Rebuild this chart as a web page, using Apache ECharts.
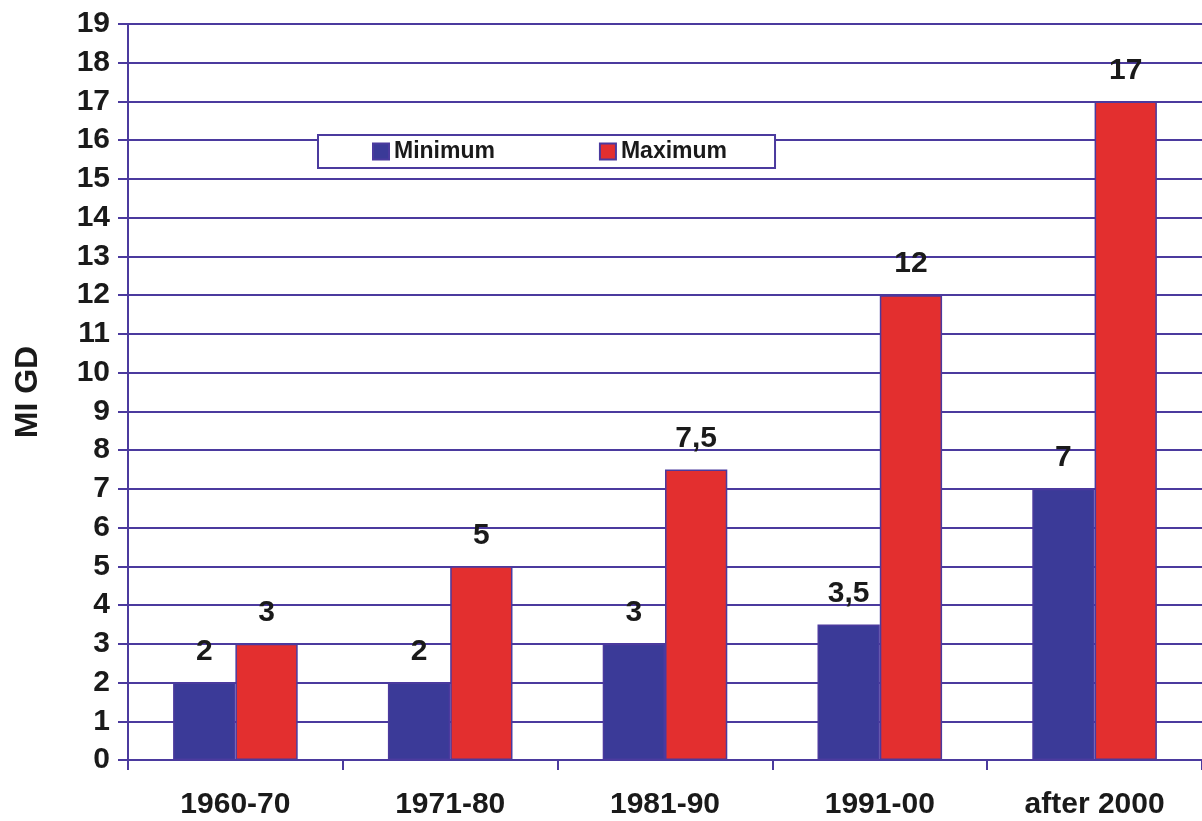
<!DOCTYPE html>
<html><head><meta charset="utf-8">
<script src="https://cdn.jsdelivr.net/npm/echarts@6/dist/echarts.min.js"></script>
<style>html,body{margin:0;padding:0;background:#fff}#c{width:1202px;height:821px}</style>
</head><body><div id="c"></div>
<script>
const categories = ['1960-70', '1971-80', '1981-90', '1991-00', 'after 2000'];
const minimum = [2, 2, 3, 3.5, 7];
const maximum = [3, 5, 7.5, 12, 17];
const yTicks = {min: 0, max: 19, interval: 1};

const purple = '#4b3a9e';
const ink = '#1a1a1a';
const font = 'Liberation Sans, Arial, sans-serif';
const fmt = p => String(p.value).replace('.', ',');
const labelStyle = {fontFamily: font, fontWeight: 'bold', fontSize: 30, color: ink};
const chart = echarts.init(document.getElementById('c'));
chart.setOption({
  animation: false,
  grid: {left: 128, right: 0, top: 24, bottom: 61, containLabel: false, outerBoundsMode: 'none'},
  legend: {
    left: 318, top: 135, icon: 'rect',
    data: ['Minimum', 'Maximum'],
    backgroundColor: '#fff', borderColor: purple, borderWidth: 2,
    padding: [5, 48, 5, 54], itemGap: 104, itemWidth: 16, itemHeight: 16,
    textStyle: {fontFamily: font, fontWeight: 'bold', fontSize: 23, color: ink}
  },
  xAxis: {
    type: 'category', data: categories,
    axisLine: {lineStyle: {color: purple, width: 2}},
    axisTick: {show: true, length: 10, lineStyle: {color: purple, width: 2}},
    axisLabel: Object.assign({margin: 30}, labelStyle)
  },
  yAxis: {
    type: 'value', min: yTicks.min, max: yTicks.max, interval: yTicks.interval,
    name: 'MI GD', nameLocation: 'middle', nameGap: 84, nameRotate: 90,
    nameTextStyle: {fontFamily: font, fontWeight: 'bold', fontSize: 32, color: ink},
    axisLine: {show: true, lineStyle: {color: purple, width: 2}},
    axisTick: {show: true, length: 10, lineStyle: {color: purple, width: 2}},
    splitLine: {lineStyle: {color: purple, width: 2}},
    axisLabel: Object.assign({margin: 18}, labelStyle)
  },
  series: [
    {name: 'Minimum', type: 'bar', data: minimum, barGap: 0, barCategoryGap: '42%',
     itemStyle: {color: '#3b3a98', borderColor: purple, borderWidth: 1.5},
     label: Object.assign({show: true, position: 'top', distance: 16, formatter: fmt}, labelStyle)},
    {name: 'Maximum', type: 'bar', data: maximum,
     itemStyle: {color: '#e32f2f', borderColor: purple, borderWidth: 1.5},
     label: Object.assign({show: true, position: 'top', distance: 16, formatter: fmt}, labelStyle)}
  ]
});
</script></body></html>
